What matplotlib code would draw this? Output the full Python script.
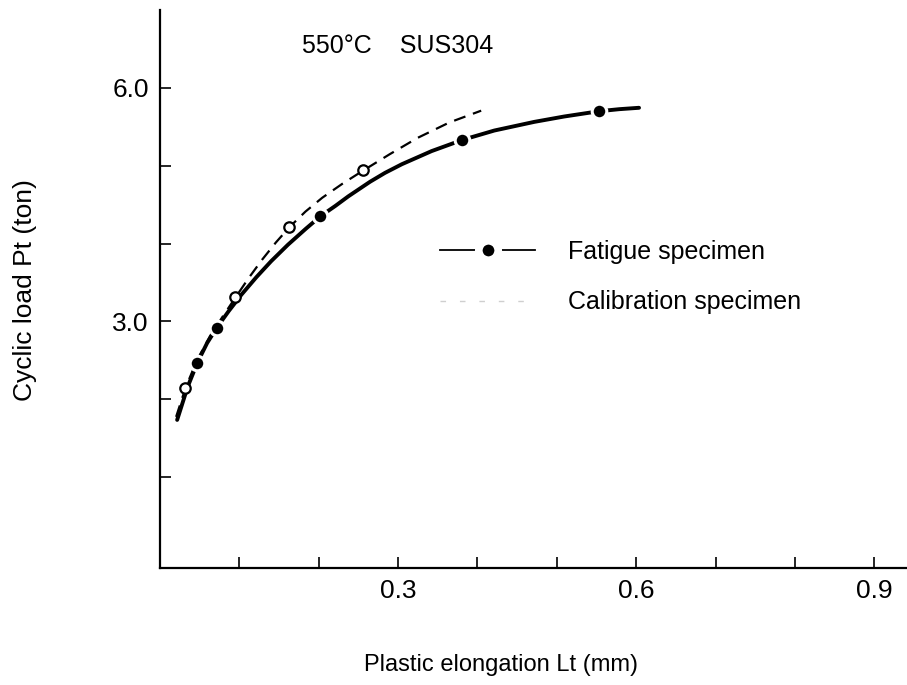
import matplotlib
matplotlib.use("Agg")
import matplotlib.pyplot as plt
from matplotlib.lines import Line2D
from matplotlib.ticker import FixedLocator, FixedFormatter

plt.rcParams['font.family'] = ['Liberation Sans', 'DejaVu Sans']

# Measured points: plastic elongation Lt (mm) vs cyclic load Pt (ton)
fatigue_x = [0.047, 0.072, 0.202, 0.381, 0.553]
fatigue_y = [2.47, 2.92, 4.35, 5.33, 5.70]

calib_x = [0.032, 0.095, 0.163, 0.256]
calib_y = [2.15, 3.31, 4.21, 4.94]

# Hand-faired curves through each series
fatigue_curve_x = [0.0216, 0.0349, 0.0471, 0.0594, 0.0718, 0.0866, 0.1027, 0.1214,
                   0.1400, 0.1612, 0.1836, 0.2023, 0.2210, 0.2372, 0.2647, 0.2835,
                   0.3047, 0.3423, 0.3812, 0.4213, 0.4716, 0.5093, 0.5533, 0.5785,
                   0.6036]
fatigue_curve_y = [1.735, 2.161, 2.471, 2.723, 2.923, 3.133, 3.345, 3.568,
                   3.773, 3.985, 4.189, 4.352, 4.484, 4.606, 4.794, 4.908,
                   5.019, 5.188, 5.332, 5.452, 5.563, 5.632, 5.700, 5.726,
                   5.744]

calib_curve_x = [0.0203, 0.0324, 0.0471, 0.0631, 0.0792, 0.0952, 0.1113, 0.1286,
                 0.1460, 0.1634, 0.1833, 0.2045, 0.2295, 0.2557, 0.2895, 0.3245,
                 0.3645, 0.4047]
calib_curve_y = [1.774, 2.154, 2.511, 2.813, 3.066, 3.309, 3.551, 3.792,
                 4.014, 4.214, 4.411, 4.589, 4.766, 4.936, 5.148, 5.357,
                 5.555, 5.707]

x_ticks = [0.1, 0.2, 0.3, 0.4, 0.5, 0.6, 0.7, 0.8, 0.9]
x_tick_labels = ["", "", "0.3", "", "", "0.6", "", "", "0.9"]
y_ticks = [1.0, 2.0, 3.0, 4.0, 5.0, 6.0]
y_tick_labels = ["", "", "3.0", "", "", "6.0"]

W, H = 907, 685
fig = plt.figure(figsize=(W / 100, H / 100), dpi=100)
left, right, top, bottom = 160, 906, 10, 568
ax = fig.add_axes([left / W, 1 - bottom / H, (right - left) / W, (bottom - top) / H])

ax.set_xlim(0.0, 0.94)
ax.set_ylim(-0.167, 7.0)

# curves
ax.plot(calib_curve_x, calib_curve_y, color='black', lw=1.6, dashes=(5.4, 3.6),
        solid_joinstyle='round', dash_capstyle='butt', zorder=2)
ax.plot(fatigue_curve_x, fatigue_curve_y, color='black', lw=2.8,
        solid_joinstyle='round', solid_capstyle='round', zorder=3)

# data markers (white rim breaks the line around each point)
ax.plot(calib_x, calib_y, linestyle='none', marker='o', markersize=7.5,
        markerfacecolor='white', markeredgecolor='black', markeredgewidth=1.6, zorder=4)
ax.plot(fatigue_x, fatigue_y, linestyle='none', marker='o', markersize=10.5,
        markerfacecolor='black', markeredgecolor='white', markeredgewidth=2.2, zorder=5)

# axes styling
for s in ('top', 'right'):
    ax.spines[s].set_visible(False)
for s in ('left', 'bottom'):
    ax.spines[s].set_linewidth(1.6)

ax.xaxis.set_major_locator(FixedLocator(x_ticks))
ax.xaxis.set_major_formatter(FixedFormatter(x_tick_labels))
ax.yaxis.set_major_locator(FixedLocator(y_ticks))
ax.yaxis.set_major_formatter(FixedFormatter(y_tick_labels))
ax.tick_params(axis='both', direction='in', length=8, width=1.2, labelsize=19, pad=8)

ax.set_xlabel("Plastic elongation Lt (mm)", fontsize=17, va='center')
ax.xaxis.set_label_coords((501 - left) / (right - left), -(665 - bottom) / (bottom - top))
ax.set_ylabel("Cyclic load Pt (ton)", fontsize=19, va='center')
ax.yaxis.set_label_coords(-(left - 25) / (right - left), (bottom - 290) / (bottom - top))

fig.text(302 / W, 1 - 53 / H, "550°C    SUS304", fontsize=18, ha='left', va='baseline')

handles = [
    Line2D([], [], color='black', lw=1.3, marker='o', markersize=14,
           markerfacecolor='black', markeredgecolor='white', markeredgewidth=5.5),
    Line2D([], [], color='#cfcfcf', lw=1.0, dashes=(4, 10)),
]
ax.legend(handles, ["Fatigue specimen", "Calibration specimen"],
          loc='upper left', bbox_to_anchor=(440 / W, 1 - 240 / H),
          bbox_transform=fig.transFigure, frameon=False, fontsize=18,
          handlelength=3.8, handletextpad=1.3, labelspacing=1.05,
          borderpad=0, borderaxespad=0, numpoints=1)

fig.savefig("out.png", dpi=100)
